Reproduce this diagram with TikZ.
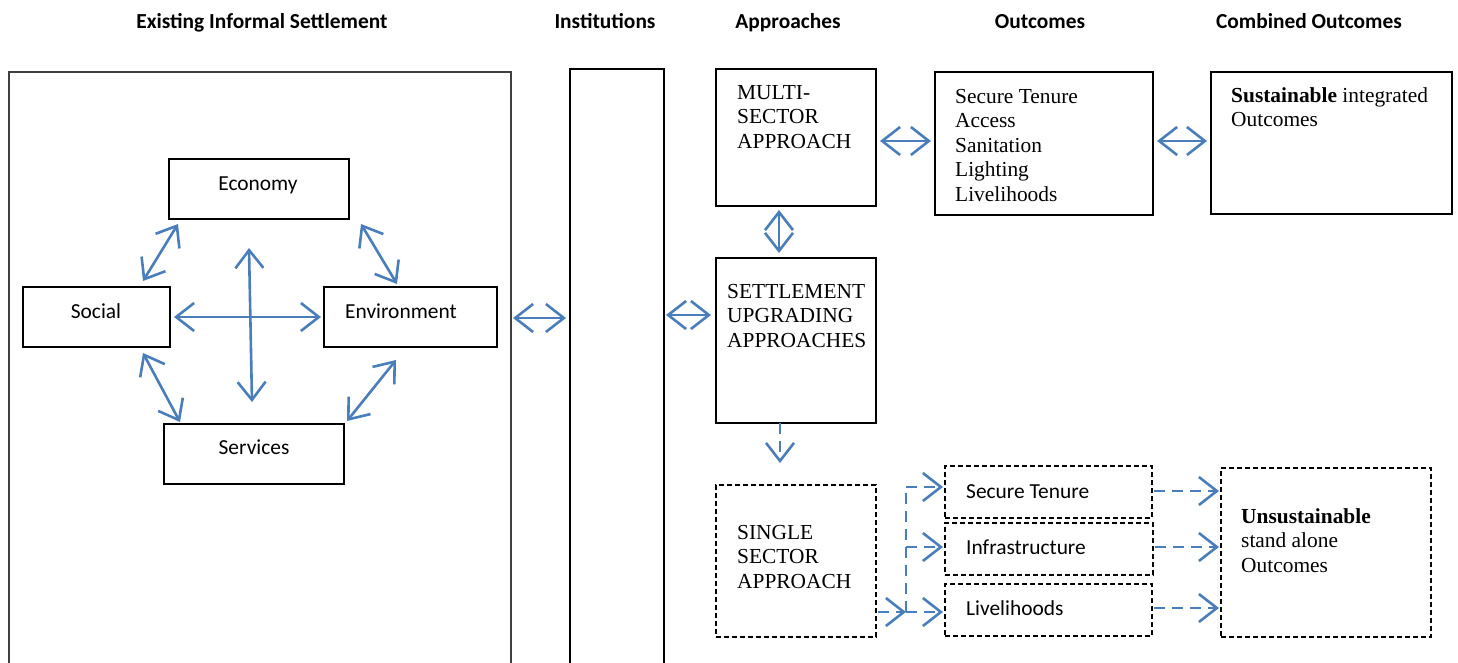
\documentclass[tikz,border=0pt]{standalone}
\usepackage{fontspec}
\setmainfont{Liberation Serif}
\newfontfamily\calibri{Carlito}
\usetikzlibrary{arrows.meta}
\definecolor{linkblue}{HTML}{4A7EBB}
\begin{document}
\begin{tikzpicture}[x=1pt,y=-1pt,
  frame/.style={draw=black, line width=1.1pt, inner sep=0pt, outer sep=0pt, anchor=north west},
  openframe/.style={frame, draw=black!75},
  dframe/.style={frame, dash pattern=on 5pt off 3pt},
  heading/.style={font=\calibri\bfseries\fontsize{21.4}{25}\selectfont, anchor=base, inner sep=0pt},
  sanslabel/.style={font=\calibri\fontsize{21.4}{25}\selectfont, inner sep=0pt},
  % multi-line labels are placed by the baseline of their last line
  seriflabel/.style={font=\fontsize{21.4}{24.5}\selectfont, align=left, inner sep=0pt, anchor=base west},
  barb/.tip={Straight Barb[length=18pt,width=28pt]},
  link/.style={draw=linkblue, line width=2.6pt, barb-barb},
  dlink/.style={draw=linkblue, line width=2.6pt, dash pattern=on 11pt off 7pt, -barb},
  dline/.style={draw=linkblue, line width=2pt, dash pattern=on 11pt off 7pt},
]
\useasboundingbox (0,0) rectangle (1458,662);

% column headings
\node[heading] (hSettle) at (262,28) {Existing Informal Settlement};
\node[heading] (hInst)   at (605,28) {Institutions};
\node[heading] (hAppr)   at (788,28) {Approaches};
\node[heading] (hOut)    at (1040,28) {Outcomes};
\node[heading] (hComb)   at (1309,28) {Combined Outcomes};

% open frames running off the bottom edge
\node[openframe, minimum width=502pt, minimum height=620pt] (big)  at (9,72) {};
\node[openframe, draw=black, minimum width=94pt, minimum height=620pt] (inst) at (570,69) {};

% the four pillars of the settlement
\node[frame, minimum width=180pt, minimum height=60pt] (econ)   at (169,159) {};
\node[frame, minimum width=147pt, minimum height=60pt] (social) at (23,287) {};
\node[frame, minimum width=173pt, minimum height=60pt] (env)    at (324,287) {};
\node[frame, minimum width=180pt, minimum height=60pt] (serv)   at (164,424) {};
\node[sanslabel, anchor=base]      (tEcon)   at (258,190) {Economy};
\node[sanslabel, anchor=base]      (tSocial) at (96,318)  {Social};
\node[sanslabel, anchor=base west] (tEnv)    at (345,318) {Environment};
\node[sanslabel, anchor=base]      (tServ)   at (254,454) {Services};

% approaches
\node[frame, minimum width=160pt, minimum height=137pt] (multi)  at (716,69) {};
\node[frame, minimum width=160pt, minimum height=165pt] (settle) at (716,258) {};
\node[dframe, minimum width=160pt, minimum height=152pt] (single) at (716,485) {};
\node[seriflabel] (tMulti)  at (737,148)  {MULTI-\\SECTOR\\APPROACH};
\node[seriflabel] (tSettle) at (727,347) {SETTLEMENT\\UPGRADING\\APPROACHES};
\node[seriflabel] (tSingle) at (737,588) {SINGLE\\SECTOR\\APPROACH};

% outcomes
\node[frame, minimum width=218pt, minimum height=143pt] (outc) at (935,72) {};
\node[frame, minimum width=241pt, minimum height=142pt] (comb) at (1211,72) {};
\node[seriflabel] (tOutc) at (955,201) {Secure Tenure\\Access\\Sanitation\\Lighting\\Livelihoods};
\node[seriflabel] (tComb) at (1231,126.5) {\textbf{Sustainable} integrated\\Outcomes};

\node[dframe, minimum width=207pt, minimum height=52pt] (sten)  at (945,466) {};
\node[dframe, minimum width=208pt, minimum height=52pt] (infra) at (945,523) {};
\node[dframe, minimum width=207pt, minimum height=52pt] (live)  at (945,584) {};
\node[sanslabel, anchor=base west] (tSten)  at (966,498) {Secure Tenure};
\node[sanslabel, anchor=base west] (tInfra) at (966,554) {Infrastructure};
\node[sanslabel, anchor=base west] (tLive)  at (966,615) {Livelihoods};

\node[dframe, minimum width=210pt, minimum height=169pt] (unsus) at (1221,468) {};
\node[seriflabel] (tUnsus) at (1241,572) {\textbf{Unsustainable}\\stand alone\\Outcomes};

% links among the pillars
\draw[link] ([shift={(9,5)}]econ.south west) -- ([shift={(120,-6)}]social.north west);
\draw[link] ([shift={(12,5)}]econ.south east) -- ([shift={(73,-3)}]env.north west);
\draw[link] ([shift={(-10,29)}]econ.south) -- ([shift={(-2,-22)}]serv.north);
\draw[link] ([xshift=4]social.east) -- ([xshift=-3]env.west);
\draw[link] ([shift={(120,6)}]social.south west) -- ([shift={(16,-2)}]serv.north west);
\draw[link] ([shift={(72,13)}]env.south west) -- ([shift={(3,-3)}]serv.north east);

% links across the columns
\draw[link] ([shift={(2,246)}]big.north east) -- ([shift={(-4,249)}]inst.north west);
\draw[link] ([shift={(2,246)}]inst.north east) -- ([shift={(-5,57)}]settle.north west);
\draw[link] ([shift={(-17,4)}]multi.south) -- ([shift={(-17,-5)}]settle.north);
\draw[link] ([shift={(4,72)}]multi.north east) -- ([shift={(-4,69)}]outc.north west);
\draw[link] ([shift={(4,69)}]outc.north east) -- ([shift={(-4,69)}]comb.north west);
\draw[dlink] ([xshift=-16]settle.south) -- ([shift={(-16,-22)}]single.north);

% single-sector branches
\coordinate (fork) at (906,612);
\coordinate (stenIn)  at ([shift={(-2,21)}]sten.north west);
\coordinate (infraIn) at ([shift={(-2,24)}]infra.north west);
\draw[dlink] ([shift={(2,127)}]single.north east) -- (fork);
\draw[dlink] (fork) -- ([shift={(-2,28)}]live.north west);
\draw[dline] (fork) -- (stenIn -| fork);
\draw[dlink] (stenIn -| fork) -- (stenIn);
\draw[dlink] (infraIn -| fork) -- (infraIn);

% branches to the stand-alone outcomes
\draw[dlink] ([shift={(2,25)}]sten.north east) -- ([shift={(-2,23)}]unsus.north west);
\draw[dlink] ([shift={(2,24)}]infra.north east) -- ([shift={(-2,79)}]unsus.north west);
\draw[dlink] ([shift={(2,24)}]live.north east) -- ([shift={(-2,140)}]unsus.north west);
\end{tikzpicture}
\end{document}
